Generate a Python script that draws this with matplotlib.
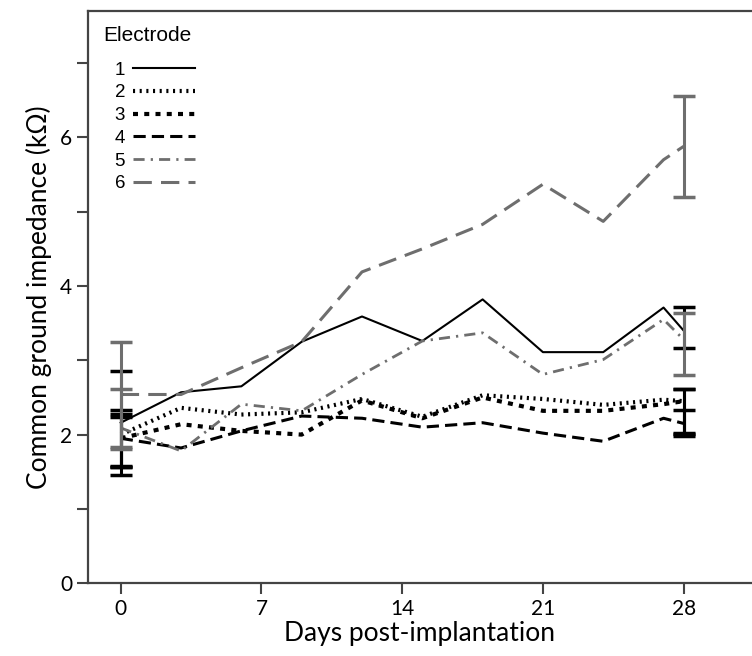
import matplotlib
matplotlib.use('Agg')
import matplotlib.pyplot as plt
import numpy as np

days = [0, 3, 6, 9, 12, 15, 18, 21, 24, 27, 28]

e1 = [2.16, 2.57, 2.65, 3.25, 3.59, 3.26, 3.82, 3.11, 3.11, 3.71, 3.40]
e2 = [2.00, 2.36, 2.27, 2.30, 2.48, 2.24, 2.53, 2.48, 2.40, 2.47, 2.45]
e3 = [1.95, 2.14, 2.05, 2.00, 2.46, 2.22, 2.50, 2.32, 2.32, 2.41, 2.45]
e4 = [1.95, 1.82, 2.05, 2.25, 2.22, 2.10, 2.16, 2.02, 1.91, 2.22, 2.15]
e5 = [2.09, 1.78, 2.41, 2.32, 2.81, 3.26, 3.37, 2.81, 3.01, 3.55, 3.28]
e6 = [2.54, 2.54, 2.90, 3.25, 4.19, 4.50, 4.83, 5.37, 4.87, 5.70, 5.88]

# error bars at day 0 and day 28: (mean, err)
err0 = {1: (2.15, 0.70), 2: (1.95, 0.38), 3: (1.93, 0.35), 4: (1.90, 0.34),
        5: (2.21, 0.40), 6: (2.54, 0.71)}
err28 = {1: (3.44, 0.28), 2: (2.32, 0.30), 3: (2.30, 0.32), 4: (2.17, 0.16),
         5: (3.22, 0.42), 6: (5.88, 0.68)}

labels = ['1', '2', '3', '4', '5', '6']
grey = '#6e6e6e'

styles = [
    dict(color='black', lw=1.5, ls='-'),
    dict(color='black', lw=3.0, ls=(0, (0.5, 1.1))),
    dict(color='black', lw=3.0, ls=(0, (1.2, 1.5))),
    dict(color='black', lw=2.2, ls=(0, (4, 2))),
    dict(color=grey, lw=2.0, ls=(0, (4, 2.2, 0.8, 2.2))),
    dict(color=grey, lw=2.2, ls=(0, (6, 3))),
]

series = [e1, e2, e3, e4, e5, e6]

fig = plt.figure(figsize=(7.52, 6.56), dpi=100)
ax = fig.add_axes([0.117, 0.111, 0.883, 0.872])

for i, (s, st) in enumerate(zip(series, styles)):
    ax.plot(days, s, label=labels[i], **st)

for i in range(1, 7):
    c = 'black' if i <= 4 else grey
    for d, e in ((0, err0), (28, err28)):
        m, r = e[i]
        ax.errorbar([d], [m], yerr=[r], fmt='none', ecolor=c, elinewidth=2.2,
                    capsize=8, capthick=2.5)

ax.set_xlim(-1.63, 31.4)
ax.set_ylim(0, 7.7)
ax.set_xticks([0, 7, 14, 21, 28])
ax.set_yticks(range(8))
ax.set_yticklabels(['0', '', '2', '', '4', '', '6', ''])
ax.spines['right'].set_visible(False)
for sp in ('left', 'bottom', 'top'):
    ax.spines[sp].set_linewidth(1.6)
    ax.spines[sp].set_color('#444444')
ax.tick_params(length=8, width=1.5, color='#444444', labelsize=15)
for t in ax.get_xticklabels() + ax.get_yticklabels():
    t.set_fontfamily('Lato')

ax.set_xlabel('Days post-implantation', fontsize=19, family='Lato', labelpad=1)
ax.set_ylabel('Common ground impedance (k\u03a9)', fontsize=19, family='Lato', labelpad=6)

ax.text(0.023, 0.957, 'Electrode', transform=ax.transAxes, fontsize=15,
        family='Liberation Sans', ha='left', va='center')
ax.legend(loc='upper left', frameon=False, markerfirst=False,
          handlelength=3.3, handletextpad=0.45, labelspacing=0.3,
          prop={'family': 'Liberation Sans', 'size': 13.5},
          bbox_to_anchor=(0.04, 0.912), borderaxespad=0, borderpad=0)

fig.savefig('out.png', dpi=100)
